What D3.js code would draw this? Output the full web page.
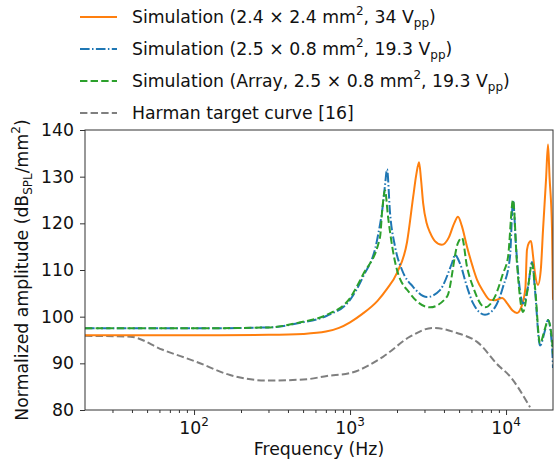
<!DOCTYPE html>
<html>
<head>
<meta charset="utf-8">
<script src="https://cdn.jsdelivr.net/npm/d3@7"></script>
<style>
    body { margin: 0; background: #fff; }
    text { font-family: "DejaVu Sans", sans-serif; fill: #111; }
</style>
</head>
<body>
<svg id="chart" width="555" height="461"></svg>
<script>
// values (frequency in Hz, amplitude in dB)
const freqOrange = [20, 100, 300, 500, 700, 850, 1000, 1200, 1500, 1730, 2000, 2320, 2540, 2660, 2770, 2850, 2940, 3100, 3260, 3500, 3880, 4300, 4650, 4920, 5200, 5620, 6140, 6520, 7120, 7890, 8500, 9430, 10200, 11000, 11750, 12500, 13300, 13620, 14000, 14460, 14900, 15330, 16030, 16700, 17260, 18040, 18580, 19000, 19720, 20000]
const dbOrange = [96.0, 96.0, 96.1, 96.3, 96.8, 97.6, 98.8, 100.6, 103.4, 106.0, 109.4, 116.0, 125.7, 130.5, 133.1, 129.5, 124.4, 120.0, 118.0, 116.2, 115.4, 117.0, 120.0, 121.4, 119.5, 115.0, 110.5, 107.9, 105.5, 103.6, 103.5, 104.0, 102.8, 101.3, 100.8, 102.0, 106.0, 114.3, 115.8, 116.2, 113.0, 109.3, 106.8, 110.0, 118.6, 129.3, 136.9, 130.0, 118.6, 103.6]

const freqBlue = [20, 100, 300, 480, 710, 1000, 1210, 1490, 1630, 1680, 1726, 1805, 1943, 2154, 2535, 3113, 3773, 4505, 4710, 5070, 5620, 6140, 7330, 8490, 9570, 10600, 11090, 11590, 12280, 12850, 13840, 14680, 15330, 16510, 17780, 18580, 19720, 20000]
const dbBlue = [97.5, 97.5, 97.7, 98.7, 100.2, 103.6, 108.5, 116.4, 124.4, 128.5, 131.6, 122.2, 115.0, 110.0, 106.4, 104.2, 105.7, 111.5, 113.2, 111.4, 106.4, 102.9, 100.4, 102.0, 106.4, 112.8, 124.8, 115.0, 105.7, 102.8, 106.4, 111.7, 105.7, 93.8, 97.1, 99.3, 93.5, 89.0]

const freqGreen = [20, 100, 300, 480, 710, 1000, 1210, 1556, 1610, 1675, 1752, 2000, 2420, 3256, 4188, 4920, 5220, 5620, 6140, 7330, 8490, 9570, 10300, 11090, 11750, 12850, 13840, 14680, 15330, 16510, 17780, 18580, 19720, 20000]
const dbGreen = [97.5, 97.5, 97.7, 98.8, 100.4, 104.0, 109.0, 117.0, 123.0, 127.1, 121.4, 110.0, 105.0, 102.0, 104.3, 115.8, 116.9, 110.7, 106.4, 102.0, 104.3, 109.3, 112.8, 125.0, 111.4, 101.0, 106.4, 111.4, 106.4, 94.3, 97.5, 99.3, 94.8, 92.0]

const freqHarman = [20, 39, 63, 104, 170, 294, 530, 711, 1000, 1626, 2420, 3400, 4850, 6520, 9150, 10140, 14250]
const dbHarman = [95.9, 95.7, 92.9, 90.3, 87.5, 86.3, 86.6, 87.3, 87.9, 91.4, 95.7, 97.6, 96.5, 94.6, 89.2, 87.9, 80.6]

const yTicks = [80, 90, 100, 110, 120, 130, 140]
const xTicks = [100, 1000, 10000]
const xExponents = ["2", "3", "4"]

const fontSize = 17.3
const smallSize = 12

const svg = d3.select("#chart")

const margin = {left: 85, right: 2, top: 130, bottom: 51}
const W = 555, H = 461

const x = d3.scaleLog().domain([20, 20000]).range([margin.left, W - margin.right])
const y = d3.scaleLinear().domain([80, 140]).range([H - margin.bottom, margin.top])

const plot = svg.append("g")

plot.append("clipPath").attr("id", "clip")
    .append("rect")
    .attr("x", x(20)).attr("y", y(140))
    .attr("width", x(20000) - x(20)).attr("height", y(80) - y(140))

const line = d3.line()
    .x(d => x(d[0]))
    .y(d => y(d[1]))
    .curve(d3.curveMonotoneX)

const series = [
    {f: freqHarman, v: dbHarman, color: "#7f7f7f", dash: "7.4,3.2"},
    {f: freqOrange, v: dbOrange, color: "#ff7f0e", dash: null},
    {f: freqBlue, v: dbBlue, color: "#1f77b4", dash: "9.6,2.4,1.5,2.4"},
    {f: freqGreen, v: dbGreen, color: "#2ca02c", dash: "7.4,3.2"},
]

series.forEach(s => {
    plot.append("path")
        .attr("clip-path", "url(#clip)")
        .attr("d", line(s.f.map((f, i) => [f, s.v[i]])))
        .attr("fill", "none")
        .attr("stroke", s.color)
        .attr("stroke-width", 2)
        .attr("stroke-dasharray", s.dash)
})

// frame
svg.append("rect")
    .attr("x", x(20)).attr("y", y(140))
    .attr("width", x(20000) - x(20)).attr("height", y(80) - y(140))
    .attr("fill", "none").attr("stroke", "#333").attr("stroke-width", 1)

// y axis
const yAxis = svg.append("g")
    .attr("transform", `translate(${x(20)},0)`)
    .call(d3.axisLeft(y).tickValues(yTicks).tickSize(5).tickPadding(6))
yAxis.select(".domain").remove()
yAxis.selectAll("line").attr("stroke", "#333")
yAxis.selectAll("text").attr("font-size", fontSize).attr("font-family", "DejaVu Sans").attr("fill", "#111")

// x axis, minor ticks
const minor = []
for (let d = 10; d <= 10000; d *= 10) {
    for (let k = 2; k <= 9; k++) {
        const v = d * k
        if (v > 20 && v < 20000) minor.push(v)
    }
}
const xAxisMinor = svg.append("g")
    .attr("transform", `translate(0,${y(80)})`)
    .call(d3.axisBottom(x).tickValues(minor).tickSize(3).tickFormat(""))
xAxisMinor.select(".domain").remove()
xAxisMinor.selectAll("line").attr("stroke", "#333")

const xAxis = svg.append("g")
    .attr("transform", `translate(0,${y(80)})`)
    .call(d3.axisBottom(x).tickValues(xTicks).tickSize(5).tickFormat(""))
xAxis.select(".domain").remove()
xAxis.selectAll("line").attr("stroke", "#333")

xTicks.forEach((t, i) => {
    const lab = svg.append("text")
        .attr("x", x(t))
        .attr("y", y(80) + 24)
        .attr("text-anchor", "middle")
        .attr("font-size", fontSize)
    lab.append("tspan").text("10")
    lab.append("tspan").attr("dy", -8).attr("font-size", smallSize).text(xExponents[i])
})

svg.append("text")
    .attr("x", (x(20) + x(20000)) / 2)
    .attr("y", 455)
    .attr("text-anchor", "middle")
    .attr("font-size", fontSize)
    .text("Frequency (Hz)")

const yl = svg.append("text")
    .attr("transform", `translate(28,${(y(80) + y(140)) / 2}) rotate(-90)`)
    .attr("text-anchor", "middle")
    .attr("font-size", fontSize)
yl.append("tspan").text("Normalized amplitude (dB")
yl.append("tspan").attr("dy", 4).attr("font-size", smallSize).text("SPL")
yl.append("tspan").attr("dy", -4).text("/mm")
yl.append("tspan").attr("dy", -8).attr("font-size", smallSize).text("2")
yl.append("tspan").attr("dy", 8).text(")")

// legend
const legendRows = [
    {color: "#ff7f0e", dash: null, parts: [["Simulation (2.4 × 2.4 mm"], ["2", "sup"], [", 34 V"], ["pp", "sub"], [")"]]},
    {color: "#1f77b4", dash: "9.6,2.4,1.5,2.4", parts: [["Simulation (2.5 × 0.8 mm"], ["2", "sup"], [", 19.3 V"], ["pp", "sub"], [")"]]},
    {color: "#2ca02c", dash: "7.4,3.2", parts: [["Simulation (Array, 2.5 × 0.8 mm"], ["2", "sup"], [", 19.3 V"], ["pp", "sub"], [")"]]},
    {color: "#7f7f7f", dash: "7.4,3.2", parts: [["Harman target curve [16]"]]},
]

legendRows.forEach((r, i) => {
    const cy = 17 + i * 32
    svg.append("line")
        .attr("x1", 80).attr("x2", 117)
        .attr("y1", cy).attr("y2", cy)
        .attr("stroke", r.color).attr("stroke-width", 2)
        .attr("stroke-dasharray", r.dash)
    const t = svg.append("text").attr("x", 132).attr("y", cy + 6).attr("font-size", fontSize)
    let shift = 0
    r.parts.forEach(p => {
        let dy = 0
        if (p[1] === "sup") { dy = -8 - shift; shift = -8 }
        else if (p[1] === "sub") { dy = 4 - shift; shift = 4 }
        else { dy = -shift; shift = 0 }
        t.append("tspan").attr("dy", dy).attr("font-size", p[1] ? smallSize : fontSize).text(p[0])
    })
})
</script>
</body>
</html>
